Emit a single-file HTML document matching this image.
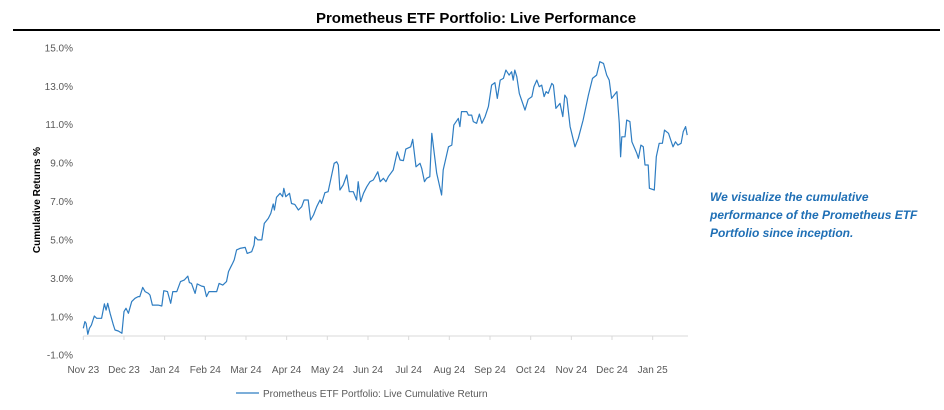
<!DOCTYPE html>
<html><head><meta charset="utf-8"><style>
body{margin:0;background:#fff;width:944px;height:410px;overflow:hidden;font-family:"Liberation Sans",sans-serif;}
svg{display:block}
</style></head><body>
<svg id="chart" width="944" height="410">
<text x="476" y="23" text-anchor="middle" font-size="15" font-weight="bold" fill="#000">Prometheus ETF Portfolio: Live Performance</text>
<line x1="13" y1="30" x2="940" y2="30" stroke="#000" stroke-width="2"/>
<text transform="translate(40,200) rotate(-90)" text-anchor="middle" font-size="10" font-weight="bold" fill="#000">Cumulative Returns %</text>
<g id="yt"></g>
<g id="xt"></g>
<g id="series"></g>
<g>
<line x1="236" y1="393" x2="259" y2="393" stroke="#2e7dc2" stroke-width="1.3"/>
<text x="263" y="397" font-size="10" fill="#595959">Prometheus ETF Portfolio: Live Cumulative Return</text>
</g>
<g font-size="12" font-style="italic" font-weight="bold" fill="#1f6fb5">
<text x="710" y="201">We visualize the cumulative</text>
<text x="710" y="219">performance of the Prometheus ETF</text>
<text x="710" y="237">Portfolio since inception.</text>
</g>
</svg>
<script>
const yTicks=[15,13,11,9,7,5,3,1,-1];
const monthLabels=["Nov 23","Dec 23","Jan 24","Feb 24","Mar 24","Apr 24","May 24","Jun 24","Jul 24","Aug 24","Sep 24","Oct 24","Nov 24","Dec 24","Jan 25"];
const months=[0.00,0.04,0.07,0.11,0.15,0.20,0.27,0.33,0.45,0.52,0.56,0.60,0.66,0.74,0.78,0.86,0.95,1.00,1.05,1.11,1.19,1.27,1.35,1.39,1.46,1.52,1.60,1.64,1.70,1.84,1.93,1.98,2.07,2.15,2.20,2.30,2.39,2.48,2.57,2.61,2.66,2.75,2.80,2.91,2.97,3.03,3.09,3.20,3.28,3.34,3.43,3.52,3.57,3.63,3.67,3.71,3.77,3.85,3.98,4.03,4.14,4.20,4.22,4.29,4.39,4.45,4.55,4.61,4.67,4.70,4.75,4.84,4.90,4.93,4.98,5.07,5.12,5.20,5.29,5.37,5.43,5.53,5.59,5.66,5.74,5.82,5.86,5.94,6.02,6.09,6.17,6.23,6.27,6.31,6.39,6.48,6.54,6.64,6.72,6.76,6.82,6.89,6.97,7.05,7.13,7.24,7.30,7.38,7.44,7.50,7.62,7.72,7.79,7.87,7.93,8.05,8.10,8.18,8.28,8.32,8.39,8.44,8.52,8.57,8.69,8.81,8.85,8.98,9.06,9.11,9.22,9.26,9.30,9.43,9.47,9.55,9.59,9.67,9.74,9.80,9.88,9.96,10.04,10.12,10.18,10.25,10.33,10.39,10.47,10.53,10.57,10.61,10.66,10.72,10.86,10.94,11.03,11.08,11.15,11.21,11.27,11.33,11.38,11.43,11.52,11.56,11.62,11.72,11.79,11.84,11.89,11.97,12.09,12.17,12.29,12.42,12.52,12.62,12.70,12.79,12.87,12.93,12.99,13.12,13.18,13.21,13.24,13.32,13.36,13.44,13.49,13.61,13.65,13.71,13.77,13.81,13.89,13.92,14.04,14.09,14.16,14.24,14.29,14.39,14.50,14.56,14.62,14.70,14.75,14.81,14.85];
const returns=[0.40,0.75,0.66,0.09,0.40,0.57,1.04,0.92,0.92,1.67,1.35,1.70,1.18,0.57,0.31,0.26,0.14,1.27,1.44,1.18,1.79,1.96,2.05,2.05,2.53,2.31,2.22,2.13,1.61,1.61,1.56,2.36,2.31,1.70,2.31,2.31,2.83,2.91,3.12,2.78,2.74,2.22,2.71,2.60,2.57,2.05,2.31,2.31,2.31,2.74,2.65,2.83,3.35,3.61,3.78,3.96,4.48,4.56,4.61,4.30,4.39,4.74,5.17,5.00,5.00,5.86,6.12,6.38,6.87,6.56,7.22,7.43,7.25,7.69,7.25,7.43,6.90,6.85,6.56,6.73,7.08,7.08,6.04,6.30,6.73,7.08,6.90,7.46,7.51,8.21,8.99,9.07,8.90,7.60,7.86,8.38,7.51,7.51,7.08,8.03,6.99,7.43,7.77,8.03,8.12,8.55,8.03,8.21,8.03,8.29,8.64,9.59,9.16,9.13,9.73,9.85,10.24,8.81,8.99,8.73,8.03,8.21,8.29,10.55,8.47,7.34,8.64,9.85,9.94,10.98,11.33,10.90,11.68,11.68,11.50,11.50,11.16,11.07,11.55,11.07,11.42,11.94,13.06,13.19,12.37,13.32,13.41,13.84,13.58,13.76,13.32,13.84,13.50,12.63,11.76,12.32,12.46,12.98,13.32,12.98,13.06,12.46,12.72,12.63,13.15,13.06,11.85,12.11,11.42,12.54,12.37,10.90,9.85,10.29,11.24,12.54,13.41,13.58,14.28,14.19,13.58,13.32,12.37,12.72,11.07,9.33,10.37,10.37,11.24,11.16,10.11,9.51,9.25,9.94,9.85,8.90,8.90,7.69,7.60,9.33,10.03,10.03,10.72,10.55,9.85,10.11,9.94,10.03,10.63,10.90,10.46];

const NS="http://www.w3.org/2000/svg";
function xs(m){return 83.3+m*40.67;}
function ys(v){return 336-v*19.21;}
const yt=document.getElementById('yt'),xt=document.getElementById('xt'),sg=document.getElementById('series');
yTicks.forEach(v=>{
  const t=document.createElementNS(NS,'text');
  t.setAttribute('x',73);t.setAttribute('y',ys(v)+3.5);t.setAttribute('text-anchor','end');
  t.setAttribute('font-size','10');t.setAttribute('fill','#595959');
  t.textContent=v.toFixed(1)+'%';
  
  
  yt.appendChild(t);
});
const ax=document.createElementNS(NS,'line');
ax.setAttribute('x1',xs(0));ax.setAttribute('x2',688);ax.setAttribute('y1',ys(0));ax.setAttribute('y2',ys(0));
ax.setAttribute('stroke','#d9d9d9');ax.setAttribute('stroke-width','1');


xt.appendChild(ax);
monthLabels.forEach((lab,i)=>{
  const tk=document.createElementNS(NS,'line');
  tk.setAttribute('x1',xs(i));tk.setAttribute('x2',xs(i));tk.setAttribute('y1',ys(0));tk.setAttribute('y2',ys(0)+4);
  tk.setAttribute('stroke','#d9d9d9');
  
  
  xt.appendChild(tk);
  const t=document.createElementNS(NS,'text');
  t.setAttribute('x',xs(i));t.setAttribute('y',373);t.setAttribute('text-anchor','middle');
  t.setAttribute('font-size','10');t.setAttribute('fill','#595959');
  t.textContent=lab;
  
  
  xt.appendChild(t);
});
const p=document.createElementNS(NS,'polyline');
p.setAttribute('points',months.map((m,i)=>xs(m).toFixed(1)+','+ys(returns[i]).toFixed(1)).join(' '));
p.setAttribute('fill','none');p.setAttribute('stroke','#2e7dc2');p.setAttribute('stroke-width','1.2');p.setAttribute('stroke-linejoin','round');


sg.appendChild(p);
</script>
</body></html>
